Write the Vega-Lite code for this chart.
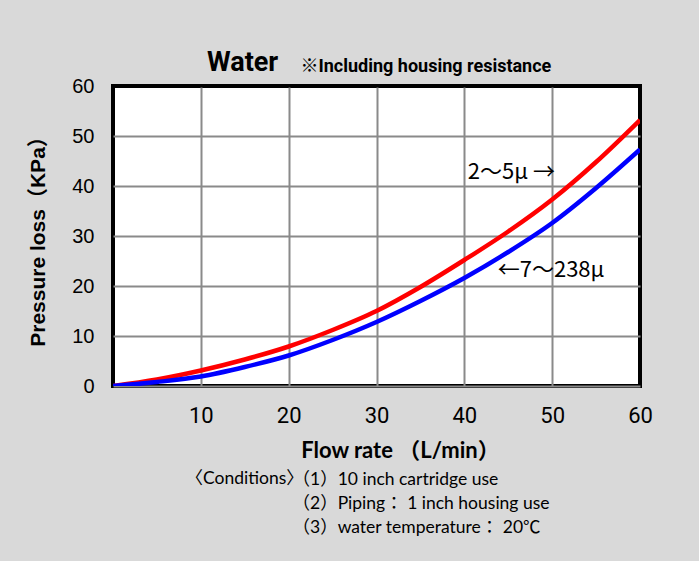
{
  "$schema": "https://vega.github.io/schema/vega-lite/v6.json",
  "width": 527,
  "height": 300,
  "autosize": {"type": "none"},
  "padding": {"left": 113, "top": 86, "right": 59, "bottom": 175},
  "background": "#d9d9d9",
  "config": {"view": {"fill": "white", "stroke": "black", "strokeWidth": 4}},
  "title": {"text": "Water", "font": "Roboto", "fontSize": 27, "fontWeight": "bold", "color": "black", "anchor": "start", "frame": "group", "dx": 94, "offset": 0, "dy": 20},
  "datasets": {
    "curves": [
      {"flow": 0, "loss": 0, "series": "2〜5μ"},
      {"flow": 5, "loss": 1.3, "series": "2〜5μ"},
      {"flow": 10, "loss": 3.1, "series": "2〜5μ"},
      {"flow": 15, "loss": 5.3, "series": "2〜5μ"},
      {"flow": 20, "loss": 7.9, "series": "2〜5μ"},
      {"flow": 25, "loss": 11.2, "series": "2〜5μ"},
      {"flow": 30, "loss": 15.0, "series": "2〜5μ"},
      {"flow": 35, "loss": 19.8, "series": "2〜5μ"},
      {"flow": 40, "loss": 25.2, "series": "2〜5μ"},
      {"flow": 45, "loss": 30.9, "series": "2〜5μ"},
      {"flow": 50, "loss": 37.3, "series": "2〜5μ"},
      {"flow": 55, "loss": 44.8, "series": "2〜5μ"},
      {"flow": 60, "loss": 53.2, "series": "2〜5μ"},
      {"flow": 0, "loss": 0, "series": "7〜238μ"},
      {"flow": 5, "loss": 0.8, "series": "7〜238μ"},
      {"flow": 10, "loss": 1.9, "series": "7〜238μ"},
      {"flow": 15, "loss": 3.8, "series": "7〜238μ"},
      {"flow": 20, "loss": 6.1, "series": "7〜238μ"},
      {"flow": 25, "loss": 9.2, "series": "7〜238μ"},
      {"flow": 30, "loss": 12.8, "series": "7〜238μ"},
      {"flow": 35, "loss": 17.0, "series": "7〜238μ"},
      {"flow": 40, "loss": 21.6, "series": "7〜238μ"},
      {"flow": 45, "loss": 26.8, "series": "7〜238μ"},
      {"flow": 50, "loss": 32.6, "series": "7〜238μ"},
      {"flow": 55, "loss": 39.6, "series": "7〜238μ"},
      {"flow": 60, "loss": 47.3, "series": "7〜238μ"}
    ],
    "labels": [
      {"flow": 40.4, "loss": 42.8, "label": "2〜5μ →"},
      {"flow": 43.8, "loss": 23.2, "label": "←7〜238μ"}
    ]
  },
  "layer": [
    {
      "data": {"name": "curves"},
      "transform": [{"filter": "datum.series === '2〜5μ'"}],
      "mark": {"type": "line", "color": "#ff0000", "strokeWidth": 4.5, "interpolate": "monotone", "clip": true},
      "encoding": {
        "x": {"field": "flow", "type": "quantitative", "scale": {"domain": [0, 60], "nice": false},
          "axis": {"values": [10, 20, 30, 40, 50, 60], "grid": true, "gridWidth": 2,
            "gridColor": {"condition": {"test": "datum.value == 60", "value": "black"}, "value": "#8a8a8a"},
            "domain": false, "ticks": false, "labelFlush": false, "labelFont": "Roboto", "labelFontSize": 22, "labelColor": "black", "labelPadding": 19,
            "title": "Flow rate （L/min）", "titleFont": "Lato, Noto Sans CJK JP", "titleFontSize": 22, "titleFontWeight": "bold", "titleColor": "black",
            "titleX": 287, "titleY": 64, "titleAlign": "center", "titleBaseline": "middle"}},
        "y": {"field": "loss", "type": "quantitative", "scale": {"domain": [0, 60], "nice": false},
          "axis": {"values": [0, 10, 20, 30, 40, 50, 60], "grid": true, "gridWidth": 2,
            "gridColor": {"condition": {"test": "datum.value == 60", "value": "black"}, "value": "#8a8a8a"},
            "domain": false, "ticks": false, "labelFlush": false, "labelFont": "Liberation Sans", "labelFontSize": 20, "labelColor": "black", "labelPadding": 19,
            "title": "Pressure loss（KPa）", "titleFont": "Liberation Sans, Noto Sans CJK JP", "titleFontSize": 21, "titleFontWeight": "bold", "titleColor": "black",
            "titleX": -75, "titleY": 150, "titleAngle": -90, "titleAlign": "center", "titleBaseline": "middle"}}
      }
    },
    {
      "data": {"name": "curves"},
      "transform": [{"filter": "datum.series === '7〜238μ'"}],
      "mark": {"type": "line", "color": "#0000ff", "strokeWidth": 4.5, "interpolate": "monotone", "clip": true},
      "encoding": {
        "x": {"field": "flow", "type": "quantitative",
          "axis": {"orient": "top", "grid": false, "domain": false, "ticks": false, "labels": false,
            "title": "※Including housing resistance", "titleFont": "Roboto, Noto Sans CJK JP", "titleFontSize": 18, "titleFontWeight": "bold", "titleColor": "black",
            "titleX": 187, "titleY": -15, "titleAlign": "left", "titleBaseline": "alphabetic"}},
        "y": {"field": "loss", "type": "quantitative", "axis": null}
      }
    },
    {
      "data": {"name": "labels"},
      "mark": {"type": "text", "align": "left", "baseline": "middle", "font": "Noto Sans CJK JP", "fontSize": 22, "color": "black"},
      "encoding": {
        "x": {"field": "flow", "type": "quantitative",
          "axis": {"orient": "bottom", "grid": false, "domain": false, "ticks": false, "labels": false,
            "title": "〈Conditions〉", "titleFont": "Lato, Noto Sans CJK JP", "titleFontSize": 17.5, "titleFontWeight": "normal", "titleColor": "black",
            "titleX": 72, "titleY": 92, "titleAlign": "left", "titleBaseline": "middle"}},
        "y": {"field": "loss", "type": "quantitative",
          "axis": {"orient": "right", "grid": false, "domain": false, "ticks": false, "labels": false,
            "title": ["（1）10 inch cartridge use", "（2）Piping： 1 inch housing use", "（3）water temperature： 20℃"],
            "titleFont": "Lato, Noto Sans CJK JP", "titleFontSize": 17.5, "titleFontWeight": "normal", "titleColor": "black",
            "titleAngle": 0, "titleX": -348, "titleY": 398, "titleAlign": "left", "titleBaseline": "alphabetic", "titleLineHeight": 24}},
        "text": {"field": "label"}
      }
    }
  ],
  "resolve": {"axis": {"x": "independent", "y": "independent"}}
}
